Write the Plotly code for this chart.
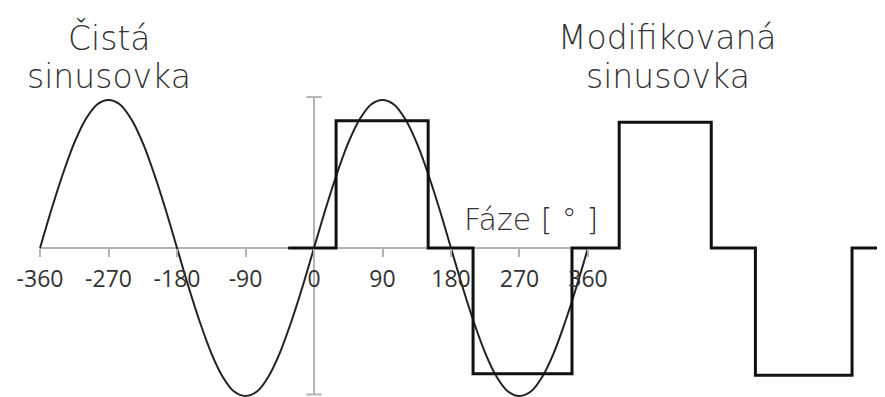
import plotly.graph_objects as go

# -----------------------------------------------------------------------------
# Data
# -----------------------------------------------------------------------------
# pure sine, sampled every 15 degrees
sine_deg = list(range(-360, 361, 15))
_quarter = [0, 0.26, 0.5, 0.71, 0.87, 0.97, 1]
_half = _quarter + _quarter[-2::-1]                    # 0 .. 1 .. 0
_neg = [-v for v in _half]
sine_val = _half + _neg[1:] + _half[1:] + _neg[1:]

# modified sine (step wave): switching angles and levels
step_deg = [-34, 29, 150, 209, 339, 401, 522, 580, 707, 750]
step_val = [0, 0.86, 0, -0.85, 0, 0.85, 0, -0.86, 0, 0]

tick_vals = [-360, -270, -180, -90, 0, 90, 180, 270, 360]
tick_text = ['-360', '-270', '-180', '-90', '0', '90', '180', '270', '360']

# axis decoration extents
h_axis_deg = [-360, 372]
v_axis_val = [-0.99, 1.02]
cap_half = 10

# page body has an 8px margin, so the figure is drawn 8px smaller and ranges shifted
W, H = 877, 389
X_RANGE = [-402.1, 750.3]
Y_RANGE = [-1.007, 1.622]
AXIS_POS = 1 - 240 / H
AXIS_GRAY = '#b4b4b4'

fig = go.Figure()

# horizontal axis line
fig.add_trace(go.Scatter(x=h_axis_deg, y=[0, 0], mode='lines',
                         line=dict(color=AXIS_GRAY, width=2), hoverinfo='skip'))
# vertical axis with end caps
fig.add_trace(go.Scatter(x=[0, 0], y=v_axis_val, mode='lines',
                         line=dict(color=AXIS_GRAY, width=2), hoverinfo='skip'))
for yv in v_axis_val:
    fig.add_trace(go.Scatter(x=[-cap_half, cap_half], y=[yv, yv], mode='lines',
                             line=dict(color=AXIS_GRAY, width=2), hoverinfo='skip'))

# pure sine
fig.add_trace(go.Scatter(x=sine_deg, y=sine_val, mode='lines',
                         line=dict(color='#222222', width=2, shape='spline', smoothing=1)))

# modified sine
fig.add_trace(go.Scatter(x=step_deg, y=step_val, mode='lines',
                         line=dict(color='#111111', width=3, shape='hv')))

title_font = dict(family='DejaVu Sans', size=33, color='#333333', weight=300)

# title lines: (text, x in degrees, y in units)
for txt, xd, yv in [('Čistá', -269, 1.42), ('sinusovka', -269, 1.16),
                    ('Modifikovaná', 465, 1.42), ('sinusovka', 465, 1.16)]:
    fig.add_annotation(x=xd, y=yv, text=txt, showarrow=False, font=title_font,
                       xanchor='center', yanchor='middle')

fig.add_annotation(x=285, y=0.19, text='Fáze [ ° ]', showarrow=False,
                   font=dict(family='DejaVu Sans', size=30, color='#333333', weight=300),
                   xanchor='center', yanchor='middle')

fig.update_layout(
    width=W, height=H,
    margin=dict(l=0, r=0, t=0, b=0),
    paper_bgcolor='white', plot_bgcolor='white',
    showlegend=False,
    xaxis=dict(range=X_RANGE, showgrid=False, zeroline=False, showline=False,
               tickvals=tick_vals, ticktext=tick_text,
               ticks='outside', ticklen=8, tickwidth=2, tickcolor=AXIS_GRAY,
               tickfont=dict(family='Open Sans', size=23, color='#333333'),
               ticklabelstandoff=2,
               anchor='free', position=AXIS_POS),
    yaxis=dict(range=Y_RANGE, visible=False),
)

fig.write_html("out.html")
